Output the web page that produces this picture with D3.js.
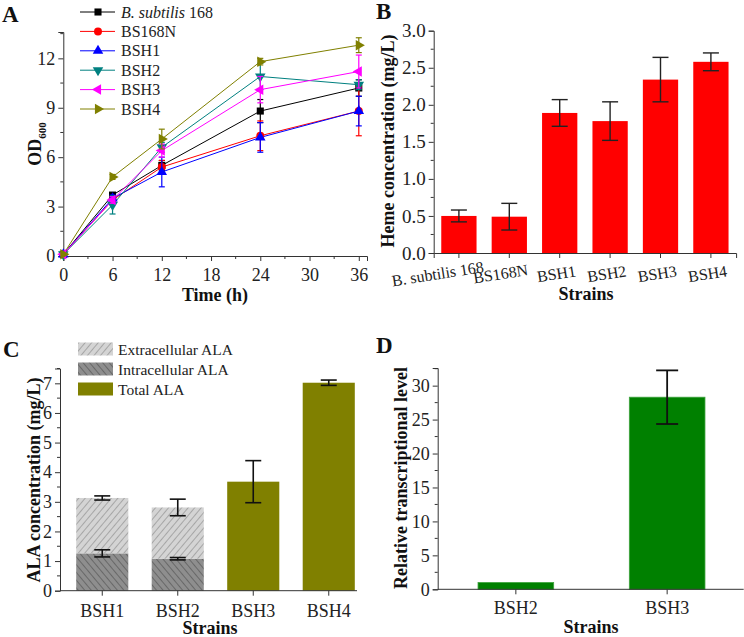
<!DOCTYPE html>
<html>
<head>
<meta charset="utf-8">
<script src="https://cdn.jsdelivr.net/npm/d3@7"></script>
<style>
  body { margin: 0; background: #fff; }
  .axis path, .axis line { stroke: #333; stroke-width: 1; }
  .title { font-weight: bold; font-size: 18px; fill: #111; }
  .letter { font-weight: bold; font-size: 23px; fill: #111; }
</style>
</head>
<body>
<script>
// ---- panel A: growth (OD600)
var times = [0, 6, 12, 24, 36];
var strainsA = ["B. subtilis 168", "BS168N", "BSH1", "BSH2", "BSH3", "BSH4"];
var od168 = [0.1, 3.7, 5.5, 8.8, 10.2];
var od168N = [0.1, 3.4, 5.4, 7.3, 8.8];
var odBSH1 = [0.1, 3.5, 5.1, 7.2, 8.8];
var odBSH2 = [0.1, 3.1, 6.6, 10.9, 10.4];
var odBSH3 = [0.1, 3.4, 6.4, 10.1, 11.2];
var odBSH4 = [0.1, 4.8, 7.1, 11.8, 12.8];
var err168 = [0.05, 0.15, 0.3, 0.7, 0.5];
var err168N = [0.05, 0.2, 0.4, 0.9, 1.5];
var errBSH1 = [0.05, 0.2, 0.9, 0.9, 0.9];
var errBSH2 = [0.05, 0.55, 0.3, 0.8, 0.3];
var errBSH3 = [0.05, 0.2, 0.4, 0.8, 1.0];
var errBSH4 = [0.05, 0.15, 0.6, 0.2, 0.45];
var ticksA_x = [0, 6, 12, 18, 24, 30, 36];
var ticksA_y = [0, 3, 6, 9, 12];

// ---- panel B: heme
var strainsB = ["B. subtilis 168", "BS168N", "BSH1", "BSH2", "BSH3", "BSH4"];
var heme = [0.50, 0.49, 1.89, 1.78, 2.34, 2.58];
var hemeErr = [0.08, 0.18, 0.18, 0.26, 0.30, 0.12];

// ---- panel C: ALA
var strainsC = ["BSH1", "BSH2", "BSH3", "BSH4"];
var alaIntra = [1.26, 1.08, null, null];
var alaIntraErr = [0.12, 0.04, null, null];
var alaTotal = [3.13, 2.81, 3.68, 7.02];
var alaTotalErr = [0.07, 0.28, 0.71, 0.09];
var legendC = ["Extracellular ALA", "Intracellular ALA", "Total ALA"];

// ---- panel D: transcription
var strainsD = ["BSH2", "BSH3"];
var transcr = [1.0, 28.3];
var transcrErr = [null, 3.95];

var FONT = "'Liberation Serif', 'Times New Roman', serif";
var W = 744, H = 637;
var svg = d3.select("body").append("svg").attr("width", W).attr("height", H)
  .style("font-family", FONT);

var defs = svg.append("defs");
function hatch(id, bg, fg, angle) {
  var p = defs.append("pattern").attr("id", id).attr("patternUnits", "userSpaceOnUse")
    .attr("width", 5).attr("height", 5).attr("patternTransform", "rotate(" + angle + ")");
  p.append("rect").attr("width", 5).attr("height", 5).attr("fill", bg);
  p.append("line").attr("x1", 0).attr("y1", 0).attr("x2", 0).attr("y2", 5)
    .attr("stroke", fg).attr("stroke-width", 1.6);
}
hatch("extra", "#d4d4d4", "#9a9a9a", 40);
hatch("intra", "#8e8e8e", "#5e5e5e", -40);

// d3 axes put font-family="sans-serif" on their group; swap it for Times
function serif(g, fs) {
  g.attr("font-family", null).style("font-family", FONT);
  g.selectAll("text").style("font-family", FONT).style("font-size", fs + "px").attr("fill", "#222");
}

function minorTicks(g, scale, values, horizontal, size) {
  g.selectAll(".minor").data(values).enter().append("line")
    .attr("stroke", "#333")
    .attr("x1", d => horizontal ? scale(d) : 0).attr("x2", d => horizontal ? scale(d) : -size)
    .attr("y1", d => horizontal ? 0 : scale(d)).attr("y2", d => horizontal ? size : scale(d));
}

function yAxis(x0, scale, ticks, minors, fmt, fs) {
  var g = svg.append("g").attr("class", "axis").attr("transform", "translate(" + x0 + ",0)")
    .call(d3.axisLeft(scale).tickValues(ticks).tickSizeOuter(0).tickSize(5).tickFormat(fmt));
  serif(g, fs);
  minorTicks(g, scale, minors, false, 3);
  return g;
}

function errBar(g, x, yTop, yBot, half, color, w) {
  g.append("line").attr("x1", x).attr("x2", x).attr("y1", yTop).attr("y2", yBot)
    .attr("stroke", color).attr("stroke-width", w);
  [yTop, yBot].forEach(function (yy) {
    g.append("line").attr("x1", x - half).attr("x2", x + half).attr("y1", yy).attr("y2", yy)
      .attr("stroke", color).attr("stroke-width", w);
  });
}

// ================= A =================
(function () {
  var x = d3.scaleLinear().domain([0, 37]).range([63.3, 367]);
  var y = d3.scaleLinear().domain([0, 13.6]).range([256, 32]);
  var colors = ["#000000", "#ff0000", "#0000ff", "#008080", "#ff00ff", "#808000"];
  var symbols = [d3.symbolSquare, d3.symbolCircle, "up", "down", "left", "right"];
  var vals = [od168, od168N, odBSH1, odBSH2, odBSH3, odBSH4];
  var errs = [err168, err168N, errBSH1, errBSH2, errBSH3, errBSH4];

  function marker(g, k, cx, cy) {
    var s = symbols[k];
    if (typeof s === "string") {
      var rot = { up: 0, down: 180, left: -90, right: 90 }[s];
      g.append("path").attr("d", d3.symbol(d3.symbolTriangle, 48)())
        .attr("transform", "translate(" + cx + "," + cy + ") rotate(" + rot + ")")
        .attr("fill", colors[k]);
    } else {
      g.append("path").attr("d", d3.symbol(s, 50)())
        .attr("transform", "translate(" + cx + "," + cy + ")").attr("fill", colors[k]);
    }
  }

  var gx = svg.append("g").attr("class", "axis").attr("transform", "translate(0,256)")
    .call(d3.axisBottom(x).tickValues(ticksA_x).tickSizeOuter(0).tickSize(5));
  serif(gx, 18);
  gx.selectAll("text").attr("dy", "0.95em");
  minorTicks(gx, x, [3, 9, 15, 21, 27, 33], true, 3);
  yAxis(63.3, y, ticksA_y, [1.5, 4.5, 7.5, 10.5, 13.5], d3.format("d"), 18);

  var line = d3.line().x((d, i) => x(times[i])).y(d => y(d));
  var plot = svg.append("g");
  vals.forEach(function (v, k) {
    plot.append("path").attr("d", line(v)).attr("fill", "none")
      .attr("stroke", colors[k]).attr("stroke-width", 1);
  });
  vals.forEach(function (v, k) {
    v.forEach(function (d, i) {
      if (i > 0) errBar(plot, x(times[i]), y(d + errs[k][i]), y(d - errs[k][i]), 3, colors[k], 1.2);
      marker(plot, k, x(times[i]), y(d));
    });
  });

  // legend
  var lg = svg.append("g");
  strainsA.forEach(function (s, k) {
    var cy = 12 + k * 19.4;
    lg.append("line").attr("x1", 80).attr("x2", 115).attr("y1", cy).attr("y2", cy)
      .attr("stroke", colors[k]).attr("stroke-width", 1);
    marker(lg, k, 98, cy);
    var t = lg.append("text").attr("x", 121).attr("y", cy + 5.5).style("font-size", "16px").attr("fill", "#222");
    if (k === 0) {
      t.append("tspan").style("font-style", "italic").text("B. subtilis");
      t.append("tspan").text(" 168");
    } else t.text(s);
  });

  svg.append("text").attr("class", "title").attr("x", 215).attr("y", 301)
    .attr("text-anchor", "middle").text("Time (h)");
  var yl = svg.append("text").attr("class", "title")
    .attr("transform", "translate(41,144) rotate(-90)").attr("text-anchor", "middle");
  yl.append("tspan").text("OD");
  yl.append("tspan").attr("dy", 5).style("font-size", "11px").text("600");
  svg.append("text").attr("class", "letter").attr("x", 2).attr("y", 22).text("A");
})();

// ================= B =================
(function () {
  var x = d3.scaleBand().domain(strainsB).range([433.7, 736.1]).paddingInner(0.3).paddingOuter(0.15);
  var y = d3.scaleLinear().domain([0, 3]).range([253, 30.7]);
  svg.selectAll(".barB").data(heme).enter().append("rect")
    .attr("x", (d, i) => x(strainsB[i])).attr("width", x.bandwidth())
    .attr("y", d => y(d)).attr("height", d => y(0) - y(d)).attr("fill", "#ff0000");
  var eg = svg.append("g");
  heme.forEach(function (d, i) {
    errBar(eg, x(strainsB[i]) + x.bandwidth() / 2, y(d + hemeErr[i]), y(d - hemeErr[i]), 8, "#222", 1.4);
  });
  var gx = svg.append("g").attr("class", "axis").attr("transform", "translate(0,253)")
    .call(d3.axisBottom(x).tickSizeOuter(0).tickSize(5));
  serif(gx, 16);
  gx.selectAll("text")
    .attr("text-anchor", "middle")
    .attr("transform", function () {
      var len = this.getComputedTextLength();
      return "translate(" + (-(len - 25) / 3) + ",12) rotate(-9)";
    }).attr("dy", "0.4em");
  yAxis(433.7, y, [0, 0.5, 1, 1.5, 2, 2.5, 3], d3.range(0.25, 3, 0.5), d3.format(".1f"), 19);

  svg.append("text").attr("class", "title").attr("x", 586).attr("y", 300)
    .attr("text-anchor", "middle").text("Strains");
  svg.append("text").attr("class", "title")
    .attr("transform", "translate(394,141) rotate(-90)").attr("text-anchor", "middle")
    .text("Heme concentration (mg/L)");
  svg.append("text").attr("class", "letter").attr("x", 376).attr("y", 19).text("B");
})();

// ================= C =================
(function () {
  var x = d3.scaleBand().domain(strainsC).range([64.5, 366.5]).paddingInner(0.31).paddingOuter(0.155);
  var y = d3.scaleLinear().domain([0, 7.5]).range([590.7, 368.5]);
  var bars = svg.append("g");
  strainsC.forEach(function (s, i) {
    if (alaIntra[i] != null) {
      bars.append("rect").attr("x", x(s)).attr("width", x.bandwidth())
        .attr("y", y(alaIntra[i])).attr("height", y(0) - y(alaIntra[i])).attr("fill", "url(#intra)");
      bars.append("rect").attr("x", x(s)).attr("width", x.bandwidth())
        .attr("y", y(alaTotal[i])).attr("height", y(alaIntra[i]) - y(alaTotal[i])).attr("fill", "url(#extra)");
    } else {
      bars.append("rect").attr("x", x(s)).attr("width", x.bandwidth())
        .attr("y", y(alaTotal[i])).attr("height", y(0) - y(alaTotal[i])).attr("fill", "#808000");
    }
  });
  strainsC.forEach(function (s, i) {
    var cx = x(s) + x.bandwidth() / 2;
    if (alaIntra[i] != null)
      errBar(bars, cx, y(alaIntra[i] + alaIntraErr[i]), y(alaIntra[i] - alaIntraErr[i]), 8, "#111", 1.6);
    errBar(bars, cx, y(alaTotal[i] + alaTotalErr[i]), y(alaTotal[i] - alaTotalErr[i]), 8, "#111", 1.6);
  });
  var gx = svg.append("g").attr("class", "axis").attr("transform", "translate(0,590.7)")
    .call(d3.axisBottom(x).tickSizeOuter(0).tickSize(5));
  gx.select(".domain").attr("d", "M60,0H357");
  serif(gx, 18);
  gx.selectAll("text").attr("dy", "1.0em");
  yAxis(60, y, d3.range(0, 8), d3.range(0.5, 7.6, 1), d3.format("d"), 18);

  var lg = svg.append("g");
  var fills = ["url(#extra)", "url(#intra)", "#808000"];
  legendC.forEach(function (t, k) {
    var cy = 349 + k * 20;
    lg.append("rect").attr("x", 78).attr("y", cy - 6.5).attr("width", 35).attr("height", 13).attr("fill", fills[k]);
    lg.append("text").attr("x", 118).attr("y", cy + 5.5).style("font-size", "15.5px").attr("fill", "#222").text(t);
  });

  svg.append("text").attr("class", "title").attr("x", 210).attr("y", 634)
    .attr("text-anchor", "middle").text("Strains");
  svg.append("text").attr("class", "title")
    .attr("transform", "translate(40,480) rotate(-90)").attr("text-anchor", "middle")
    .text("ALA concentration (mg/L)");
  svg.append("text").attr("class", "letter").attr("x", 3).attr("y", 357).text("C");
})();

// ================= D =================
(function () {
  var x = d3.scaleBand().domain(strainsD).range([440.2, 742.8]).paddingInner(0.5).paddingOuter(0.25);
  var y = d3.scaleLinear().domain([0, 32.6]).range([589.3, 368]);
  var bars = svg.append("g");
  strainsD.forEach(function (s, i) {
    bars.append("rect").attr("x", x(s)).attr("width", x.bandwidth())
      .attr("y", y(transcr[i])).attr("height", y(0) - y(transcr[i]))
      .attr("fill", "#008000").attr("stroke", "#3ea33e").attr("stroke-width", 0.8);
    if (transcrErr[i] != null)
      errBar(bars, x(s) + x.bandwidth() / 2, y(transcr[i] + transcrErr[i]), y(transcr[i] - transcrErr[i]), 11, "#111", 1.8);
  });
  var gx = svg.append("g").attr("class", "axis").attr("transform", "translate(0,589.3)")
    .call(d3.axisBottom(x).tickSizeOuter(0).tickSize(5));
  gx.select(".domain").attr("d", "M437.7,0H743.7");
  serif(gx, 18);
  gx.selectAll("text").attr("dy", "0.95em");
  yAxis(437.7, y, d3.range(0, 31, 5), d3.range(2.5, 32.6, 5), d3.format("d"), 18);

  svg.append("text").attr("class", "title").attr("x", 591).attr("y", 633)
    .attr("text-anchor", "middle").text("Strains");
  svg.append("text").attr("class", "title")
    .attr("transform", "translate(407,478) rotate(-90)").attr("text-anchor", "middle")
    .text("Relative transcriptional level");
  svg.append("text").attr("class", "letter").attr("x", 376).attr("y", 353).text("D");
})();
</script>
</body>
</html>
